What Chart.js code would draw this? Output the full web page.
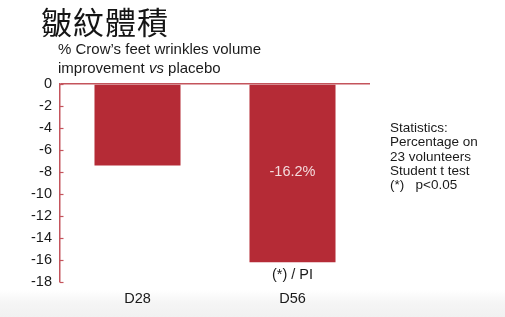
<!DOCTYPE html>
<html>
<head>
<meta charset="utf-8">
<script src="https://cdn.jsdelivr.net/npm/chart.js@4"></script>
<style>
  html, body { margin: 0; padding: 0; }
  body { width: 505px; height: 317px; position: relative; overflow: hidden;
         background: linear-gradient(to bottom, #ffffff 0px, #ffffff 290px, #f5f5f5 303px, #f1f1f1 317px);
         font-family: "Liberation Sans", Arial, sans-serif; color: #1a1a1a; }
  #wrap { position: absolute; left: 0; top: 0; width: 505px; height: 317px; }
  .t { position: absolute; white-space: nowrap; }
  #title { left: 41px; top: 1px; font-family: "Noto Sans CJK TC", "Noto Sans CJK SC", serif; font-size: 31px; line-height: 40px; color: #151515; letter-spacing: 1px; }
  #sub { left: 58px; top: 39px; font-size: 15px; line-height: 19px; color: #1a1a1a; }
  #stats { left: 390px; top: 121px; font-size: 13.5px; line-height: 14.3px; color: #1a1a1a; }
</style>
</head>
<body>
<div id="wrap"><canvas id="c" width="505" height="317"></canvas></div>
<div class="t" id="title">皺紋體積</div>
<div class="t" id="sub">% Crow’s feet wrinkles volume<br>improvement <i>vs</i> placebo</div>
<div class="t" id="stats">Statistics:<br>Percentage on<br>23 volunteers<br>Student t test<br>(*)&nbsp;&nbsp; p&lt;0.05</div>
<script>
const categories = ["D28", "D56"];
const values = [-7.4, -16.2];
const valueLabels = ["", "-16.2%"];
const noteLabels = ["", "(*) / PI"];
const yTicks = [0, -2, -4, -6, -8, -10, -12, -14, -16, -18];

const barColor = "#b52b36";
const axisColor = "#c4545c";
const textFont = "\"Liberation Sans\", Arial, sans-serif";

const extras = {
  id: "extras",
  afterDatasetsDraw(chart) {
    const ctx = chart.ctx;
    const y = chart.scales.y;
    const area = chart.chartArea;
    ctx.save();
    ctx.strokeStyle = axisColor;
    ctx.lineWidth = 1.2;
    yTicks.forEach(v => {
      const py = Math.round(y.getPixelForValue(v)) + 0.5;
      ctx.beginPath();
      ctx.moveTo(area.left, py);
      ctx.lineTo(area.left + 3.5, py);
      ctx.stroke();
    });
    const meta = chart.getDatasetMeta(0);
    ctx.font = "14.5px " + textFont;
    ctx.textAlign = "center";
    ctx.textBaseline = "middle";
    meta.data.forEach((bar, i) => {
      if (valueLabels[i]) {
        ctx.fillStyle = "#f4dadc";
        ctx.fillText(valueLabels[i], bar.x, (bar.y + bar.base) / 2 - 1);
      }
      if (noteLabels[i]) {
        ctx.fillStyle = "#1a1a1a";
        ctx.fillText(noteLabels[i], bar.x, bar.y + 13);
      }
    });
    ctx.restore();
  }
};

new Chart(document.getElementById("c"), {
  type: "bar",
  data: {
    labels: categories,
    datasets: [{
      data: values,
      backgroundColor: barColor,
      borderWidth: 0,
      categoryPercentage: 1.0,
      barPercentage: 0.555
    }]
  },
  options: {
    responsive: false,
    animation: false,
    devicePixelRatio: 1,
    layout: { padding: { left: 0, top: 84, right: 135, bottom: 0 } },
    plugins: { legend: { display: false }, tooltip: { enabled: false }, title: { display: false } },
    scales: {
      x: {
        grid: { display: false },
        border: { display: false },
        ticks: { color: "#1a1a1a", font: { family: textFont, size: 14.5 }, padding: 0 },
        afterFit(s) { s.height = 35; }
      },
      y: {
        min: -18, max: 0,
        afterBuildTicks(s) { s.ticks = yTicks.map(v => ({ value: v })); },
        grid: {
          drawTicks: false,
          color: ctx => (ctx.tick && ctx.tick.value === 0) ? axisColor : "rgba(0,0,0,0)",
          lineWidth: 1.5
        },
        border: { display: true, color: axisColor, width: 1.5 },
        ticks: { color: "#1a1a1a", font: { family: textFont, size: 14.5 }, padding: 8 },
        afterFit(s) { s.width = 60; }
      }
    }
  },
  plugins: [extras]
});
</script>
</body>
</html>
